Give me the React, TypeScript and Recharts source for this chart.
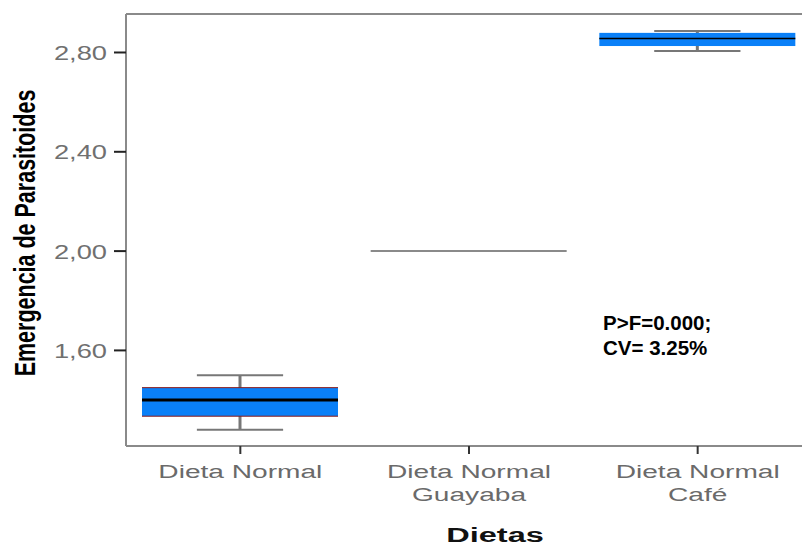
import React from 'react';
import { ComposedChart, Bar, XAxis, YAxis, ReferenceLine, Customized } from 'recharts';

const categories = ['Dieta Normal', 'Dieta Normal Guayaba', 'Dieta Normal Café'];
const tickLines = [['Dieta Normal'], ['Dieta Normal', 'Guayaba'], ['Dieta Normal', 'Café']];
const whiskerLow = [1.28, 2.0, 2.806];
const q1 = [1.335, 2.0, 2.826];
const median = [1.4, 2.0, 2.856];
const q3 = [1.45, 2.0, 2.879];
const whiskerHigh = [1.5, 2.0, 2.887];
const yTicks = [1.6, 2.0, 2.4, 2.8];
const yDomain = [1.215, 2.955];

const data = categories.map((name, i) => ({
  name,
  whisker: [whiskerLow[i], whiskerHigh[i]],
  box: [q1[i], q3[i]],
  med: [median[i], median[i]],
}));

const FONT = '"Liberation Sans", Arial, sans-serif';
const BLUE = '#0a80f8';
const GRAY = '#8a8a8a';
const edgeColor = ['#8b1a1a', 'none', 'none'];
const medianWidth = [3, 1.5, 1.5];

const WhiskerShape = (props: any) => {
  const { x, y, width, height } = props;
  const top = Math.min(y, y + height);
  const bottom = Math.max(y, y + height);
  const cx = x + width / 2;
  const capW = width * 0.44;
  if (bottom - top < 0.5) {
    return <line x1={x} x2={x + width} y1={top} y2={top} stroke={GRAY} strokeWidth={2} />;
  }
  return (
    <g stroke="#777" strokeWidth={2}>
      <line x1={cx - capW / 2} x2={cx + capW / 2} y1={top} y2={top} />
      <line x1={cx - capW / 2} x2={cx + capW / 2} y1={bottom} y2={bottom} />
      <line x1={cx} x2={cx} y1={top} y2={bottom} strokeWidth={3} />
    </g>
  );
};

const BoxShape = (props: any) => {
  const { x, y, width, height, index } = props;
  const top = Math.min(y, y + height);
  const h = Math.abs(height);
  if (h < 0.5) return null;
  const edge = edgeColor[index];
  return (
    <g>
      <rect x={x} y={top} width={width} height={h} fill={BLUE} />
      {edge !== 'none' && (
        <g stroke={edge} strokeWidth={1}>
          <line x1={x} x2={x + width} y1={top} y2={top} />
          <line x1={x} x2={x + width} y1={top + h} y2={top + h} />
        </g>
      )}
    </g>
  );
};

const MedianShape = (props: any) => {
  const { x, y, width, payload, index } = props;
  if (payload.box[0] === payload.box[1]) return null;
  return <line x1={x} x2={x + width} y1={y} y2={y} stroke="#000" strokeWidth={medianWidth[index]} />;
};

const YTick = (props: any) => {
  const { x, y, payload } = props;
  return (
    <g transform={`translate(${x - 5},${y})`}>
      <text transform="scale(1.3,1)" textAnchor="end" dy="0.36em" fontSize={21} fill="#707070" fontFamily={FONT}>
        {payload.value.toFixed(2).replace('.', ',')}
      </text>
    </g>
  );
};

const XTick = (props: any) => {
  const { x, y, index } = props;
  const lines = tickLines[index] || [];
  return (
    <g transform={`translate(${x},${y})`}>
      {lines.map((l, i) => (
        <text key={i} transform={`translate(0,${22 + i * 23}) scale(1.48,1)`} textAnchor="middle" fontSize={19} fill="#6a6a6a" fontFamily={FONT}>
          {l}
        </text>
      ))}
    </g>
  );
};

const Texts = () => (
  <g fontFamily={FONT}>
    <text transform="translate(35,233) rotate(-90) scale(1,1.35)" textAnchor="middle" fontSize={21.5} fontWeight="bold" fill="#000">
      Emergencia de Parasitoides
    </text>
    <text transform="translate(495,542) scale(1.55,1)" textAnchor="middle" fontSize={21} fontWeight="bold" fill="#111">
      Dietas
    </text>
    <text x={603} y={330} fontSize={20.5} fontWeight="bold" fill="#000">P&gt;F=0.000;</text>
    <text x={603} y={355} fontSize={20.5} fontWeight="bold" fill="#000">CV= 3.25%</text>
  </g>
);

export default function App() {
  return (
    <div style={{ position: 'fixed', left: 0, top: 0, width: 802, height: 547, overflow: 'hidden', background: '#fff' }}>
      <ComposedChart width={812} height={547} data={data} margin={{ top: 14, right: 0, left: 0, bottom: 0 }}>
        <XAxis xAxisId="b" dataKey="name" hide height={0} />
        <XAxis xAxisId="m" dataKey="name" hide height={0} />
        <XAxis
          xAxisId="w"
          dataKey="name"
          height={101}
          axisLine={{ stroke: GRAY, strokeWidth: 2 }}
          tickLine={{ stroke: '#333', strokeWidth: 2 }}
          tickSize={8}
          tick={<XTick />}
          interval={0}
        />
        <YAxis
          width={126}
          type="number"
          domain={yDomain}
          allowDataOverflow
          ticks={yTicks}
          interval={0}
          axisLine={{ stroke: GRAY, strokeWidth: 2 }}
          tickLine={{ stroke: '#222', strokeWidth: 2 }}
          tickSize={12}
          tick={<YTick />}
        />
        <ReferenceLine xAxisId="w" y={yDomain[1]} stroke={GRAY} strokeWidth={2} />
        <Bar xAxisId="w" dataKey="whisker" barSize={196} shape={WhiskerShape} isAnimationActive={false} />
        <Bar xAxisId="b" dataKey="box" barSize={196} shape={BoxShape} isAnimationActive={false} />
        <Bar xAxisId="m" dataKey="med" barSize={196} shape={MedianShape} isAnimationActive={false} />
        <Customized component={Texts} />
      </ComposedChart>
    </div>
  );
}
